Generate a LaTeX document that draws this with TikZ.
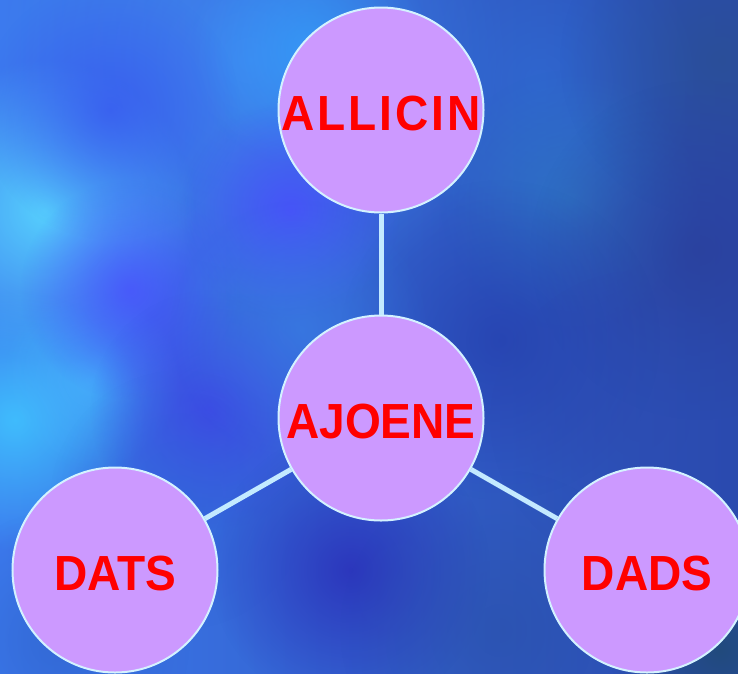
\documentclass[tikz,border=0pt]{standalone}
\usepackage{fontspec}
\setmainfont{Liberation Sans}
\usetikzlibrary{fadings}
\tikzfading[name=fuzzy, inner color=transparent!0, outer color=transparent!100]
\definecolor{bgleft}{HTML}{3C7AEE}
\definecolor{bgright}{HTML}{2A4AAE}
\definecolor{bubblefill}{HTML}{CC99FF}
\definecolor{bubbleline}{HTML}{D4F2FF}
\definecolor{linkcol}{HTML}{C4EAFF}
\definecolor{labelred}{HTML}{FF0000}
\newcommand\bgblob[4]{\definecolor{blobcol}{HTML}{#3}\fill[blobcol, path fading=fuzzy, fill opacity=#4] (#1) circle (#2);}
\newcommand\lbl[1]{\raisebox{-3pt}[\height][0pt]{\scalebox{0.98}[1.05]{#1}}}
\tikzset{
  bubble/.style={circle, fill=bubblefill, draw=bubbleline, line width=2pt,
    minimum size=205pt, inner sep=0pt, text=labelred,
    font=\fontsize{47}{47}\selectfont\bfseries},
  link/.style={draw=linkcol, line width=5pt}
}
\begin{document}
\begin{tikzpicture}[x=1pt,y=-1pt]
\useasboundingbox (0,0) rectangle (738,673);
\begin{scope}
\clip (0,0) rectangle (738,673);
\shade[left color=bgleft, right color=bgright] (0,0) rectangle (738,673);
\bgblob{250,60}{260}{4898FF}{.55}
\bgblob{310,50}{120}{30A8FF}{.6}
\bgblob{45,210}{150}{58D4FF}{.95}
\bgblob{15,420}{130}{40C4FF}{.9}
\bgblob{90,380}{90}{48B8FF}{.7}
\bgblob{110,110}{130}{3858F0}{.8}
\bgblob{130,290}{110}{4A50FF}{.8}
\bgblob{290,210}{110}{4A4CFF}{.8}
\bgblob{210,410}{120}{4040E8}{.8}
\bgblob{540,80}{160}{3070D8}{.6}
\bgblob{570,200}{130}{2E80C8}{.6}
\bgblob{720,60}{160}{2A5090}{.7}
\bgblob{700,250}{170}{2A3E98}{.7}
\bgblob{500,340}{160}{2238A8}{.6}
\bgblob{640,420}{150}{2C4AB0}{.5}
\bgblob{300,330}{130}{3A80E8}{.6}
\bgblob{180,500}{130}{3060D8}{.5}
\bgblob{350,570}{140}{2A2CB8}{.8}
\bgblob{500,630}{160}{2A50A8}{.6}
\bgblob{720,650}{110}{1F4A70}{.8}
\bgblob{60,640}{130}{2E60C8}{.6}
\end{scope}
\node[bubble] (allicin) at (381,110) {\lbl{A\kern3pt L\kern3pt L\kern3pt I\kern3pt C\kern3pt I\kern3pt N}};
\node[bubble] (ajoene) at (381,418) {\lbl{AJOENE}};
\node[bubble] (dats) at (115,570) {\lbl{DATS}};
\node[bubble] (dads) at (647,570) {\lbl{DADS}};
\draw[link] (allicin) -- (ajoene);
\draw[link] (ajoene) -- (dats);
\draw[link] (ajoene) -- (dads);
\end{tikzpicture}
\end{document}
